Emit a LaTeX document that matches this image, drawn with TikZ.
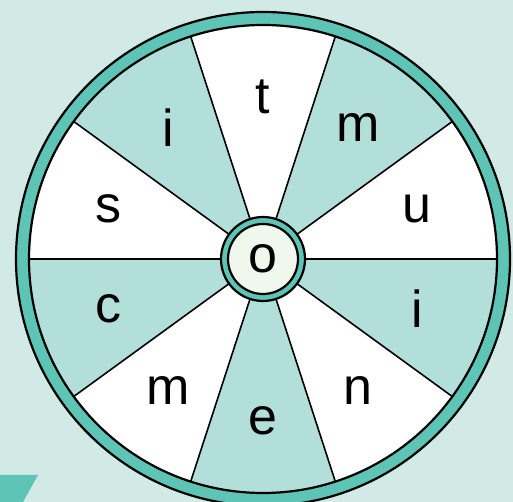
\documentclass[tikz,border=0pt]{standalone}
\usepackage{fontspec}
\setmainfont{Liberation Sans}
\usetikzlibrary{calc}
\definecolor{bgmint}{HTML}{D1EAE5}
\definecolor{ringteal}{HTML}{5EC4B6}
\definecolor{sectteal}{HTML}{B3DFDB}
\definecolor{hubfill}{HTML}{F0F8EE}
\tikzset{
  letter/.style={font=\fontsize{52}{52}\selectfont, inner sep=0pt, anchor=center},
  blk/.style={draw=black, line width=2.2pt},
}
\begin{document}
\begin{tikzpicture}[x=1pt,y=1pt]
\useasboundingbox (0,0) rectangle (513,502);
\fill[bgmint] (0,0) rectangle (513,502);
% bottom-left tab
\fill[ringteal] (0,27) -- (38,27) -- (23,0) -- (0,0) -- cycle;
\coordinate (c) at (263,243);
% outer ring
\begin{scope}
\clip (0,0) rectangle (513,502);
\filldraw[fill=ringteal, blk] (c) circle[radius=247];
\end{scope}
% sectors
\foreach \k in {0,...,9}{
  \pgfmathsetmacro{\a}{36*\k}
  \pgfmathsetmacro{\b}{36*\k+36}
  \pgfmathtruncatemacro{\isodd}{mod(\k,2)}
  \ifnum\isodd=0
    \fill[white] (c) -- ++(\a:234) arc[start angle=\a, end angle=\b, radius=234] -- cycle;
  \else
    \fill[sectteal] (c) -- ++(\a:234) arc[start angle=\a, end angle=\b, radius=234] -- cycle;
  \fi
}
\foreach \k in {0,...,9}{
  \draw[black, line width=1.6pt] (c) -- ++(36*\k:234);
}
\draw[blk] (c) circle[radius=234];
% hub
\filldraw[fill=ringteal, blk] (c) circle[radius=42];
\filldraw[fill=hubfill, blk] (c) circle[radius=35];
\node[letter] (lo) at (c) {o};
% letters
\node[letter] (l0) at ($(c)+(18:162)$) {u};
\node[letter] (l1) at ($(c)+(54:162)$) {m};
\node[letter] (l2) at ($(c)+(90:162)$) {t};
\node[letter] (l3) at ($(c)+(126:162)$) {i};
\node[letter] (l4) at ($(c)+(162:162)$) {s};
\node[letter] (l5) at ($(c)+(198:162)$) {c};
\node[letter] (l6) at ($(c)+(234:162)$) {m};
\node[letter] (l7) at ($(c)+(270:162)$) {e};
\node[letter] (l8) at ($(c)+(306:162)$) {n};
\node[letter] (l9) at ($(c)+(342:162)$) {i};
\end{tikzpicture}
\end{document}
